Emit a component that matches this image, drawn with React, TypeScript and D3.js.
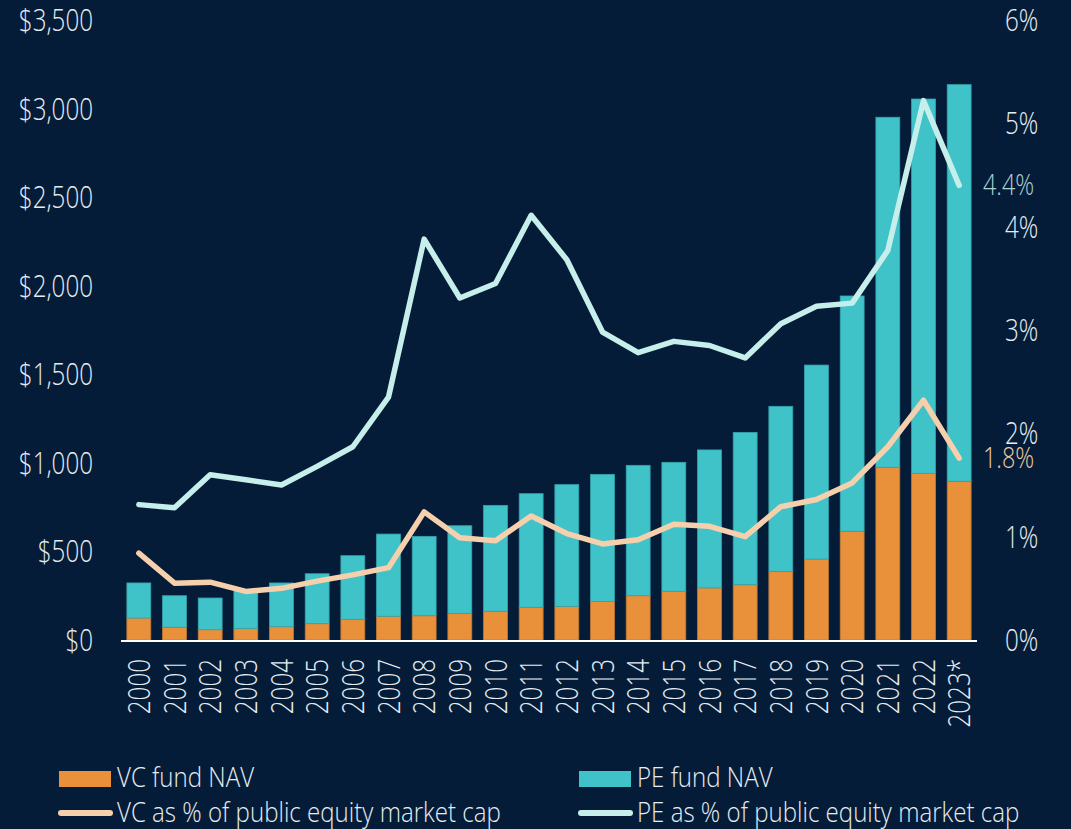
import React from "react";
import * as d3 from "d3";

const years = ["2000","2001","2002","2003","2004","2005","2006","2007","2008","2009","2010","2011","2012","2013","2014","2015","2016","2017","2018","2019","2020","2021","2022","2023*"];
const vcNav = [124,72,58,64,75,92,117,134,137,149,162,185,190,218,250,275,294,312,386,457,614,975,941,896];
const peNav = [198,178,179,216,247,282,359,464,448,496,598,641,687,717,736,728,779,860,933,1095,1328,1976,2113,2239];
const vcPct = [0.84,0.55,0.56,0.47,0.50,0.57,0.63,0.70,1.24,0.99,0.96,1.20,1.03,0.93,0.97,1.12,1.10,1.00,1.29,1.36,1.52,1.87,2.32,1.76];
const pePct = [1.31,1.28,1.60,1.55,1.50,1.68,1.87,2.35,3.88,3.31,3.45,4.11,3.68,2.98,2.78,2.89,2.85,2.73,3.06,3.23,3.26,3.77,5.22,4.40];
const leftTicks = [0,500,1000,1500,2000,2500,3000,3500];
const rightTicks = [0,1,2,3,4,5,6];

const W = 1071, H = 829;
const BG = "#051c38";
const ORANGE = "#e8913a";
const TEAL = "#40c3c8";
const PEACH = "#f6d0ad";
const CYAN = "#c6eeeb";
const TXT = "#e6edf2";
const FONT = "'Open Sans', Roboto, sans-serif";

export default function App() {
  const x = d3.scaleBand<string>().domain(years).range([121, 977]).paddingInner(0.33).paddingOuter(0.165);
  const yL = d3.scaleLinear().domain([0, 3500]).range([640, 20]);
  const yR = d3.scaleLinear().domain([0, 6]).range([640, 20]);
  const cx = (i: number) => (x(years[i]) as number) + x.bandwidth() / 2;
  const line = d3.line<number>().x((_, i) => cx(i)).y((d) => yR(d));
  const fmt = d3.format(",");
  const last = years.length - 1;

  const T = (props: { x: number; y: number; anchor?: string; size: number; fill?: string; rotate?: boolean; sx?: number; children: any }) => (
    <g transform={`translate(${props.x},${props.y})${props.rotate ? " rotate(-90)" : ""} scale(${props.sx || 0.78},1)`}>
      <text textAnchor={props.anchor || "start"} fontSize={props.size} fill={props.fill || TXT} fontFamily={FONT} fontWeight={300}>
        {props.children}
      </text>
    </g>
  );

  return (
    <svg width={W} height={H} style={{ position: "absolute", left: 0, top: 0, background: BG }}>
      <rect x={0} y={0} width={W} height={H} fill={BG} />
      {leftTicks.map((t) => (
        <T key={"l" + t} x={93} y={yL(t) + 11} anchor="end" size={31}>{"$" + fmt(t)}</T>
      ))}
      {rightTicks.map((t) => (
        <T key={"r" + t} x={1005} y={yR(t) + 11} size={31}>{t + "%"}</T>
      ))}
      {years.map((yr, i) => (
        <g key={yr}>
          <rect x={x(yr)} y={yL(vcNav[i])} width={x.bandwidth()} height={640 - yL(vcNav[i])} fill={ORANGE} stroke="#c27a36" strokeWidth={0.8} />
          <rect x={x(yr)} y={yL(vcNav[i] + peNav[i])} width={x.bandwidth()} height={yL(vcNav[i]) - yL(vcNav[i] + peNav[i])} fill={TEAL} stroke="#34a3ab" strokeWidth={0.8} />
        </g>
      ))}
      <line x1={121} x2={977} y1={641} y2={641} stroke="#ffffff" strokeWidth={2} />
      {years.map((yr, i) => (
        <T key={"x" + yr} x={cx(i) + 11} y={659} anchor="end" size={31} rotate>{yr}</T>
      ))}
      <path d={line(vcPct) || ""} fill="none" stroke={PEACH} strokeWidth={5.5} strokeLinejoin="round" strokeLinecap="round" />
      <path d={line(pePct) || ""} fill="none" stroke={CYAN} strokeWidth={5.5} strokeLinejoin="round" strokeLinecap="round" />
      <T x={983} y={yR(pePct[last]) + 10} size={30} fill="#a9d3d4">{"4.4%"}</T>
      <T x={983} y={yR(vcPct[last]) + 10} size={30} fill="#f1c9a1">{"1.8%"}</T>

      <rect x={59} y={771} width={52} height={16} fill={ORANGE} />
      <T x={117} y={787} size={28} sx={0.86}>VC fund NAV</T>
      <rect x={579} y={771} width={52} height={16} fill={TEAL} />
      <T x={637} y={787} size={28} sx={0.86}>PE fund NAV</T>
      <line x1={61} x2={110} y1={813} y2={813} stroke={PEACH} strokeWidth={6} strokeLinecap="round" />
      <T x={117} y={822} size={28} sx={0.86}>VC as % of public equity market cap</T>
      <line x1={581} x2={630} y1={813} y2={813} stroke={CYAN} strokeWidth={6} strokeLinecap="round" />
      <T x={637} y={822} size={28} sx={0.86}>PE as % of public equity market cap</T>
    </svg>
  );
}
